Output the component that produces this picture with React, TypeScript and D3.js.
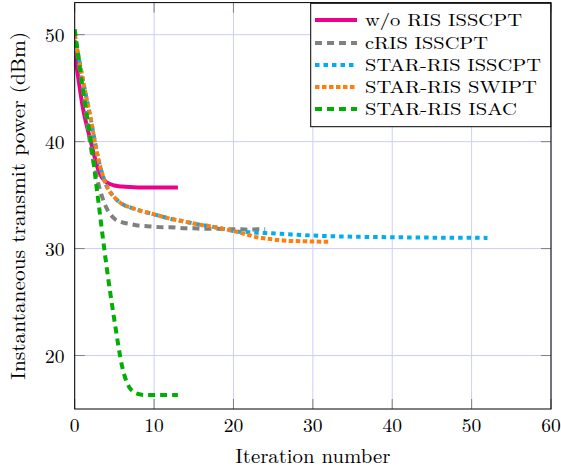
import React from "react";
import * as d3 from "d3";

const xTicks = [0, 10, 20, 30, 40, 50, 60];
const yTicks = [20, 30, 40, 50];

const woRisX = [0, 1, 2, 3, 4, 5, 6, 7, 8, 9, 10, 11, 12, 13];
const woRisY = [48.4, 43.3, 40.1, 37.3, 36.2, 35.9, 35.8, 35.75, 35.72, 35.7, 35.7, 35.7, 35.7, 35.7];

const cRisX = [0, 1, 2, 3, 4, 5, 6, 7, 8, 9, 10, 11, 12, 13, 14, 15, 16, 17, 18, 19, 20, 21, 22, 23, 24];
const cRisY = [49.5, 45.0, 39.6, 36.0, 33.8, 32.8, 32.45, 32.3, 32.15, 32.1, 32.05, 32.0, 32.0, 31.95, 31.9, 31.9, 31.85, 31.85, 31.85, 31.8, 31.8, 31.8, 31.75, 31.8, 31.8];

const starIssX = [0, 1, 2, 3, 4, 5, 6, 7, 8, 9, 10, 11, 12, 13, 14, 15, 16, 17, 18, 19, 20, 21, 22, 23, 24, 26, 28, 30, 33, 36, 40, 44, 48, 52];
const starIssY = [50.0, 45.9, 42.2, 38.3, 35.9, 34.8, 34.15, 33.85, 33.6, 33.4, 33.2, 33.0, 32.8, 32.65, 32.5, 32.35, 32.2, 32.1, 31.95, 31.8, 31.65, 31.57, 31.52, 31.48, 31.45, 31.38, 31.3, 31.22, 31.14, 31.1, 31.06, 31.03, 31.01, 31.0];

const starSwiptX = [0, 1, 2, 3, 4, 5, 6, 7, 8, 9, 10, 11, 12, 13, 14, 15, 16, 17, 18, 19, 20, 21, 22, 23, 24, 25, 26, 27, 28, 29, 30, 31, 32];
const starSwiptY = [50.0, 45.9, 42.2, 38.3, 35.9, 34.8, 34.15, 33.85, 33.6, 33.4, 33.2, 33.0, 32.8, 32.65, 32.5, 32.35, 32.2, 32.1, 31.95, 31.8, 31.65, 31.45, 31.25, 31.05, 30.95, 30.85, 30.78, 30.72, 30.7, 30.68, 30.66, 30.65, 30.65];

const starIsacX = [0, 1, 2, 3, 4, 5, 6, 7, 8, 9, 10, 11, 12, 13];
const starIsacY = [50.5, 45.0, 40.2, 34.3, 28.4, 23.3, 18.9, 16.9, 16.4, 16.3, 16.3, 16.3, 16.3, 16.3];

const seriesNames = ["w/o RIS ISSCPT", "cRIS ISSCPT", "STAR-RIS ISSCPT", "STAR-RIS SWIPT", "STAR-RIS ISAC"];
const seriesColors = ["#ec008c", "#808080", "#00aeef", "#ff7f0e", "#00b000"];
const seriesDash = ["none", "7,5", "4.5,4", "4.5,2.5", "7,5"];
const legendTextWidths = [157, 123, 176, 172, 152];

const W = 561, H = 470;
const L = 74.7, R = 551, T = 2.6, B = 409;
const FONT = "'Latin Modern Roman','CMU Serif','Liberation Serif',serif";

export default function App() {
  const x = d3.scaleLinear().domain([0, 60]).range([L, R]);
  const y = d3.scaleLinear().domain([15, 53]).range([B, T]);
  const line = d3.line<[number, number]>().x(d => x(d[0])).y(d => y(d[1])).curve(d3.curveMonotoneX);
  const data: [number, number][][] = [
    woRisX.map((v, i) => [v, woRisY[i]] as [number, number]),
    cRisX.map((v, i) => [v, cRisY[i]] as [number, number]),
    starIssX.map((v, i) => [v, starIssY[i]] as [number, number]),
    starSwiptX.map((v, i) => [v, starSwiptY[i]] as [number, number]),
    starIsacX.map((v, i) => [v, starIsacY[i]] as [number, number]),
  ];
  const legX = 310.7, legY = 3.3, legW = 240, legH = 123.4;
  const legRows = [20, 43, 65, 87, 109];
  return (
    <svg width={W} height={H} style={{ position: "absolute", left: 0, top: 0 }}>
      <rect x={0} y={0} width={W} height={H} fill="#fff" />
      <defs>
        <clipPath id="clip"><rect x={L} y={T} width={R - L} height={B - T} /></clipPath>
      </defs>
      {xTicks.map(t => (
        <line key={"gx" + t} x1={x(t)} x2={x(t)} y1={T} y2={B} stroke="#ccccff" strokeWidth={1} />
      ))}
      {yTicks.map(t => (
        <line key={"gy" + t} x1={L} x2={R} y1={y(t)} y2={y(t)} stroke="#ccccff" strokeWidth={1} />
      ))}
      {xTicks.map(t => (
        <g key={"tx" + t}>
          <line x1={x(t)} x2={x(t)} y1={B} y2={B - 10} stroke="#808080" strokeWidth={1} />
          <line x1={x(t)} x2={x(t)} y1={T} y2={T + 10} stroke="#808080" strokeWidth={1} />
          <text x={x(t)} y={431.5} textAnchor="middle" fontFamily={FONT} fontSize={19.5}>{t}</text>
        </g>
      ))}
      {yTicks.map(t => (
        <g key={"ty" + t}>
          <line x1={L} x2={L + 10} y1={y(t)} y2={y(t)} stroke="#808080" strokeWidth={1} />
          <line x1={R} x2={R - 10} y1={y(t)} y2={y(t)} stroke="#808080" strokeWidth={1} />
          <text x={64.5} y={y(t) + 7} textAnchor="end" fontFamily={FONT} fontSize={19.5}>{t}</text>
        </g>
      ))}
      <g clipPath="url(#clip)">
        {data.map((d, i) => (
          <path key={"s" + i} d={line(d) || ""} fill="none" stroke={seriesColors[i]} strokeWidth={4}
            strokeDasharray={seriesDash[i]} />
        ))}
      </g>
      <rect x={L} y={T} width={R - L} height={B - T} fill="none" stroke="#000" strokeWidth={1} />
      <rect x={legX} y={legY} width={legW} height={legH} fill="#fff" stroke="#000" strokeWidth={1} />
      {seriesNames.map((n, i) => (
        <g key={"l" + i}>
          <line x1={315} x2={357} y1={legRows[i]} y2={legRows[i]} stroke={seriesColors[i]} strokeWidth={4}
            strokeDasharray={seriesDash[i]} />
          <text x={365} y={legRows[i] + 6} fontFamily={FONT} fontSize={17}
            textLength={legendTextWidths[i]} lengthAdjust="spacingAndGlyphs">{n}</text>
        </g>
      ))}
      <text x={(L + R) / 2} y={463} textAnchor="middle" fontFamily={FONT} fontSize={19.5}
        textLength={155} lengthAdjust="spacingAndGlyphs">Iteration number</text>
      <text transform={`translate(25,${(T + B) / 2}) rotate(-90)`} textAnchor="middle" fontFamily={FONT} fontSize={19.5}
        textLength={348} lengthAdjust="spacingAndGlyphs">
        Instantaneous transmit power (dBm)
      </text>
    </svg>
  );
}
